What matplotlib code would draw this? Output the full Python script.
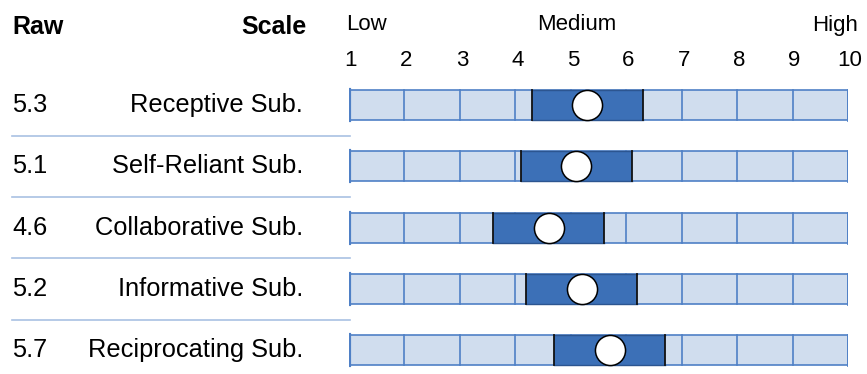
import matplotlib

matplotlib.use("Agg")
import matplotlib.pyplot as plt
from matplotlib.patches import Rectangle

plt.rcParams["font.family"] = ["Liberation Sans", "DejaVu Sans"]

# Data
scales = ["Receptive Sub.", "Self-Reliant Sub.", "Collaborative Sub.",
          "Informative Sub.", "Reciprocating Sub."]
raw = [5.3, 5.1, 4.6, 5.2, 5.7]
band_half = 1.0
scale_ticks = list(range(1, 11))
level_labels = ["Low", "Medium", "High"]

LIGHT = "#d0ddee"
EDGE = "#4f80c6"
DARK = "#3c70b7"
SEP = "#a9c1e3"
FS_ROW = 18.3
FS_HEAD = 18
FS_SCALE = 16

fig = plt.figure(figsize=(8.67, 3.74), dpi=100)
W, H = 867, 374
x0_px, x1_px = 349, 848
pitch = 61.3
row0 = 105
top_i, bot_i = -1.5, 4.4
ax = fig.add_axes([x0_px / W, 1 - (row0 + bot_i * pitch) / H,
                   (x1_px - x0_px) / W, (bot_i - top_i) * pitch / H])
ax.set_xlim(1, 10)
ax.set_ylim(bot_i, top_i)
ax.axis("off")

px = (x1_px - x0_px) / 9.0          # pixels per scale unit
def to_x(p):
    return 1 + (p - x0_px) / px

bar_h = 0.49
for i, (name, v) in enumerate(zip(scales, raw)):
    y = i - bar_h / 2
    ax.add_patch(Rectangle((1, y), 9, bar_h, facecolor=LIGHT,
                           edgecolor=EDGE, lw=1.2, zorder=1))
    for k in scale_ticks[1:-1]:
        ax.plot([k, k], [y, y + bar_h], color=EDGE, lw=1.2, zorder=2)
    ax.plot([1, 1], [y, y + bar_h], color=EDGE, lw=3, zorder=3)
    ax.plot([10, 10], [y, y + bar_h], color=EDGE, lw=2, zorder=3)
    lo, hi = v - band_half, v + band_half
    ax.add_patch(Rectangle((lo, y), hi - lo, bar_h, facecolor=DARK,
                           edgecolor="none", zorder=4))
    ax.plot([lo, hi], [y, y], color="#2c5590", lw=1, zorder=5)
    ax.plot([lo, hi], [y + bar_h, y + bar_h], color="#2c5590", lw=1, zorder=5)
    for xe in (lo, hi):
        ax.plot([xe, xe], [y, y + bar_h], color="#111111", lw=1.3, zorder=5)
    ax.scatter([v], [i], s=470, facecolor="white", edgecolor="black",
               lw=1.1, zorder=6)

    ax.text(to_x(12), i, f"{v:.1f}", fontsize=FS_ROW, ha="left",
            va="center", clip_on=False)
    ax.text(to_x(303), i, name, fontsize=FS_ROW, ha="right", va="center",
            clip_on=False)
    if i < len(scales) - 1:
        ax.plot([to_x(12), to_x(350)], [i + 0.5, i + 0.5], color=SEP, lw=1.2,
                clip_on=False)

# header
hy = (27 - row0) / pitch
ly = (25 - row0) / pitch
ty = (60 - row0) / pitch
ax.text(to_x(12), hy, "Raw", fontsize=FS_HEAD, fontweight="bold", ha="left",
        va="center", clip_on=False)
ax.text(to_x(307), hy, "Scale", fontsize=FS_HEAD, fontweight="bold",
        ha="right", va="center", clip_on=False)
ax.text(to_x(346), ly, level_labels[0], fontsize=FS_SCALE, ha="left",
        va="center")
ax.text(to_x(577), ly, level_labels[1], fontsize=FS_SCALE, ha="center",
        va="center")
ax.text(to_x(858), ly, level_labels[2], fontsize=FS_SCALE, ha="right",
        va="center", clip_on=False)
for k in scale_ticks:
    ax.text(k + to_x(351) - 1, ty, str(k), fontsize=FS_SCALE, ha="center",
            va="center", clip_on=False)

fig.savefig("out.png", dpi=100)
